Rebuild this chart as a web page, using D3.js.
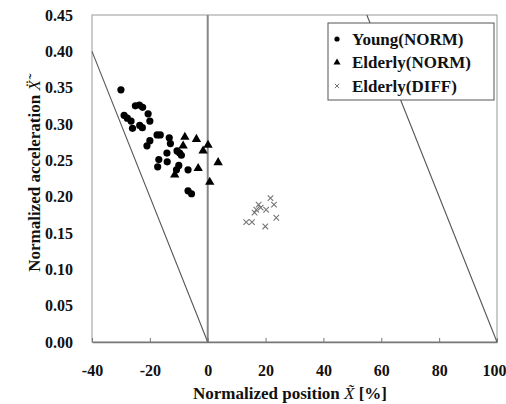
<!DOCTYPE html>
<html>
<head>
<meta charset="utf-8">
<script src="https://cdn.jsdelivr.net/npm/d3@7"></script>
<style>
  body { margin: 0; background: #fff; }
  text { font-family: "Liberation Serif", "DejaVu Serif", "Times New Roman", serif; font-weight: bold; fill: #111; }
</style>
</head>
<body>
<div id="chart"></div>
<script>
var youngNorm = [
  [-30, 0.347],
  [-28.9, 0.312], [-27.8, 0.308], [-26.5, 0.304], [-26, 0.294], [-23.5, 0.298], [-22.6, 0.295],
  [-25, 0.325], [-23.6, 0.326], [-22.5, 0.323],
  [-20.6, 0.314], [-20, 0.304],
  [-21, 0.270], [-20, 0.277],
  [-17.5, 0.285], [-16.4, 0.285],
  [-13.3, 0.281], [-12.9, 0.273],
  [-16.9, 0.251], [-17.3, 0.241],
  [-14.1, 0.260], [-14, 0.248],
  [-10.6, 0.263], [-9.7, 0.260], [-9.1, 0.257],
  [-10, 0.243], [-10.8, 0.237],
  [-6.8, 0.237],
  [-6.8, 0.208], [-5.6, 0.204]
];
var elderlyNorm = [
  [-7.9, 0.282], [-3.9, 0.279], [0.1, 0.271], [-1.6, 0.263], [3.6, 0.247],
  [-3.3, 0.239], [0.7, 0.220], [-8.5, 0.270], [-11.4, 0.230]
];
var elderlyDiff = [
  [13.3, 0.165], [15.3, 0.165], [16.2, 0.178], [16.8, 0.182], [17.6, 0.189], [18.3, 0.185],
  [20.2, 0.182], [19.9, 0.159], [21.7, 0.198], [22.9, 0.189], [23.7, 0.171]
];
// boundary lines
var leftLine = [[-40, 0.40], [0, 0]];
var rightLine = [[55, 0.45], [100, 0]];
var zeroLine = [[0, 0], [0, 0.45]];

var xTicks = [-40, -20, 0, 20, 40, 60, 80, 100];
var yTicks = [0, 0.05, 0.10, 0.15, 0.20, 0.25, 0.30, 0.35, 0.40, 0.45];
var legendLabels = ["Young(NORM)", "Elderly(NORM)", "Elderly(DIFF)"];

var serif = '"Liberation Serif", "DejaVu Serif", serif';

var margin = {top: 15, left: 92, right: 9, bottom: 62},
    width  = 506 - margin.left - margin.right,
    height = 404 - margin.top - margin.bottom;

var svg = d3.select("#chart").append("svg")
    .attr("width", 506)
    .attr("height", 404);

var g = svg.append("g").attr("transform", "translate(" + margin.left + "," + margin.top + ")");

var x = d3.scaleLinear().domain([-40, 100]).range([0, width]),
    y = d3.scaleLinear().domain([0, 0.45]).range([height, 0]);

// frame
g.append("rect")
  .attr("width", width).attr("height", height)
  .attr("fill", "none").attr("stroke", "#aaa").attr("stroke-width", 1.2);

var line = d3.line()
    .x(function(d) { return x(d[0]); })
    .y(function(d) { return y(d[1]); });

g.append("path").datum(zeroLine)
  .attr("d", line).attr("stroke", "#888").attr("stroke-width", 2).attr("fill", "none");
g.append("path").datum(leftLine)
  .attr("d", line).attr("stroke", "#555").attr("stroke-width", 1.1).attr("fill", "none");
g.append("path").datum(rightLine)
  .attr("d", line).attr("stroke", "#555").attr("stroke-width", 1.1).attr("fill", "none");

// x axis
var xAxis = g.append("g")
  .attr("transform", "translate(0," + height + ")")
  .call(d3.axisBottom(x).tickValues(xTicks).tickSizeInner(-4).tickSizeOuter(0)
        .tickFormat(function(d) { return d; }));
xAxis.attr("font-family", null);
xAxis.select(".domain").attr("stroke", "#777").attr("stroke-width", 1.5);
xAxis.selectAll(".tick line").attr("stroke", "#777");
xAxis.selectAll("text")
  .attr("y", 28).attr("dy", "0.35em")
  .style("font-family", serif).style("font-weight", "bold")
  .style("font-size", "16px").attr("fill", "#111");
xAxis.selectAll(".tick").filter(function(d) { return d === 100; }).select("text")
  .attr("text-anchor", "end").attr("x", 9);

// y axis (labels only)
var yAxis = g.append("g")
  .call(d3.axisLeft(y).tickValues(yTicks).tickSize(0).tickPadding(19)
        .tickFormat(d3.format(".2f")));
yAxis.attr("font-family", null);
yAxis.select(".domain").remove();
yAxis.selectAll("text")
  .style("font-family", serif).style("font-weight", "bold")
  .style("font-size", "16px").attr("fill", "#111");

// markers
g.selectAll(".young").data(youngNorm).enter().append("circle")
  .attr("cx", function(d) { return x(d[0]); })
  .attr("cy", function(d) { return y(d[1]); })
  .attr("r", 3.6).attr("fill", "#000");

var tri = d3.symbol().type(d3.symbolTriangle).size(38);
g.selectAll(".eld").data(elderlyNorm).enter().append("path")
  .attr("d", tri)
  .attr("transform", function(d) { return "translate(" + x(d[0]) + "," + y(d[1]) + ")"; })
  .attr("fill", "#000");

var cross = d3.symbol().type(d3.symbolX).size(22);
g.selectAll(".diff").data(elderlyDiff).enter().append("path")
  .attr("d", cross)
  .attr("transform", function(d) { return "translate(" + x(d[0]) + "," + y(d[1]) + ")"; })
  .attr("fill", "none").attr("stroke", "#777").attr("stroke-width", 1.1);

// axis titles
svg.append("text")
  .attr("x", 290).attr("y", 393)
  .attr("text-anchor", "middle").attr("dy", "0.35em")
  .style("font-size", "17px")
  .html('Normalized position <tspan font-style="italic" font-weight="normal">X\u0303</tspan> [%]');

svg.append("text")
  .attr("transform", "translate(34,176) rotate(-90)")
  .attr("text-anchor", "middle").attr("dy", "0.35em")
  .style("font-size", "17px")
  .html('Normalized acceleration <tspan font-style="italic" font-weight="normal">\u1E8C\u0303</tspan>');

// legend
var lg = svg.append("g").attr("transform", "translate(328,23)");
lg.append("rect")
  .attr("width", 166).attr("height", 77)
  .attr("fill", "#fff").attr("stroke", "#555").attr("stroke-width", 1);

var rows = lg.selectAll(".row").data(legendLabels).enter().append("g")
  .attr("transform", function(d, i) { return "translate(0," + (16 + i * 23.5) + ")"; });
rows.append("text")
  .attr("x", 24).attr("dy", "0.35em")
  .style("font-size", "17px")
  .text(function(d) { return d; });

rows.filter(function(d, i) { return i === 0; }).append("circle")
  .attr("cx", 9).attr("r", 2.6).attr("fill", "#000");
rows.filter(function(d, i) { return i === 1; }).append("path")
  .attr("d", d3.symbol().type(d3.symbolTriangle).size(22))
  .attr("transform", "translate(9,0)").attr("fill", "#000");
rows.filter(function(d, i) { return i === 2; }).append("path")
  .attr("d", d3.symbol().type(d3.symbolX).size(14))
  .attr("transform", "translate(9,0)")
  .attr("fill", "none").attr("stroke", "#777").attr("stroke-width", 1);
</script>
</body>
</html>
